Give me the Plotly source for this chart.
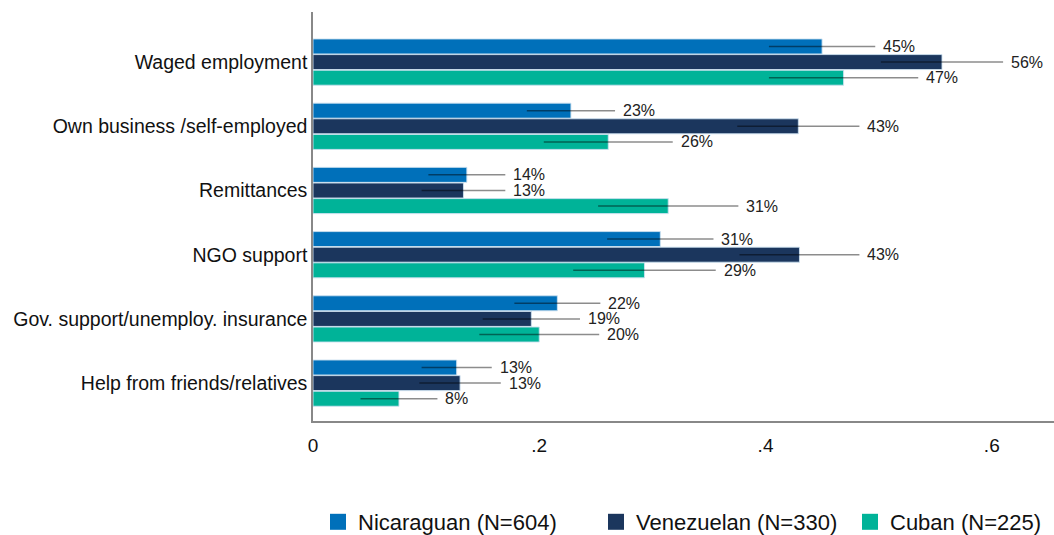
import plotly.graph_objects as go

# income sources, top to bottom
sources = ["Waged employment", "Own business /self-employed", "Remittances",
           "NGO support", "Gov. support/unemploy. insurance", "Help from friends/relatives"]

groups = ["Nicaraguan (N=604)", "Venezuelan (N=330)", "Cuban (N=225)"]
colors = ["#0070BA", "#1B365D", "#00B398"]

nicaraguan = [0.450, 0.228, 0.136, 0.307, 0.216, 0.127]
venezuelan = [0.556, 0.429, 0.133, 0.430, 0.193, 0.130]
cuban = [0.469, 0.261, 0.314, 0.293, 0.200, 0.076]

# half-width of the confidence interval
nicaraguan_ci = [0.047, 0.039, 0.034, 0.047, 0.038, 0.031]
venezuelan_ci = [0.054, 0.054, 0.037, 0.053, 0.043, 0.036]
cuban_ci = [0.066, 0.057, 0.062, 0.063, 0.053, 0.034]

values = [nicaraguan, venezuelan, cuban]
cis = [nicaraguan_ci, venezuelan_ci, cuban_ci]

FONT = "Liberation Sans, Arial, sans-serif"
bargap = 0.27
w = (1 - bargap) / 3
legend_ids = ["legend", "legend2", "legend3"]
legend_x = [318 / 1054, 596 / 1054, 850 / 1054]

fig = go.Figure()
annotations = []
legends = {}
for k, (name, col, vals, ci) in enumerate(zip(groups, colors, values, cis)):
    fig.add_trace(go.Bar(
        y=sources, x=vals, orientation="h", name=name, showlegend=False,
        marker=dict(color=col, line=dict(color="rgba(205,225,240,0.9)", width=1)),
        error_x=dict(type="data", array=ci, symmetric=True, color="rgba(0,0,0,0.45)",
                     thickness=1.5, width=0),
        hoverinfo="x+y",
    ))
    # bigger square legend key than the bar default, one legend box per group
    fig.add_trace(go.Scatter(
        x=[None], y=[None], mode="markers", name=name, legend=legend_ids[k],
        marker=dict(symbol="square", size=16, color=col),
    ))
    legends[legend_ids[k]] = dict(
        orientation="h", xref="container", yref="container",
        x=legend_x[k], y=13 / 535, xanchor="left", yanchor="middle",
        font=dict(family=FONT, size=22, color="#111111"), bgcolor="rgba(0,0,0,0)",
    )
    for i, (v, c) in enumerate(zip(vals, ci)):
        annotations.append(dict(
            x=v + c, y=i + (k - 1) * w, xref="x", yref="y",
            text=f"{round(v * 100)}%", showarrow=False,
            xanchor="left", yanchor="middle", xshift=6,
            font=dict(family=FONT, size=16, color="#222222"),
        ))

fig.update_layout(
    width=1054, height=535,
    margin=dict(l=313, r=0, t=12, b=114),
    barmode="group", bargap=bargap, bargroupgap=0.04,
    plot_bgcolor="white", paper_bgcolor="white",
    font=dict(family=FONT, size=19, color="#111111"),
    showlegend=True,
    annotations=annotations,
    **legends,
)
fig.update_xaxes(
    range=[0, 0.655], tickvals=[0, 0.2, 0.4, 0.6], ticktext=["0", ".2", ".4", ".6"],
    showgrid=False, zeroline=False, showline=True, linecolor="#888888", linewidth=1.5,
    ticks="outside", ticklen=6, tickcolor="rgba(0,0,0,0)",
    tickfont=dict(family=FONT, size=19, color="#111111"),
)
fig.update_yaxes(
    type="category", range=[5.59, -0.78],
    showgrid=False, zeroline=False, showline=True, linecolor="#888888", linewidth=1.5,
    ticks="", ticklabelstandoff=0,
    tickfont=dict(family=FONT, size=19.5, color="#111111"),
)

fig.write_html("out.html", config={"displayModeBar": False},
               post_script="document.body.style.margin='0';")
